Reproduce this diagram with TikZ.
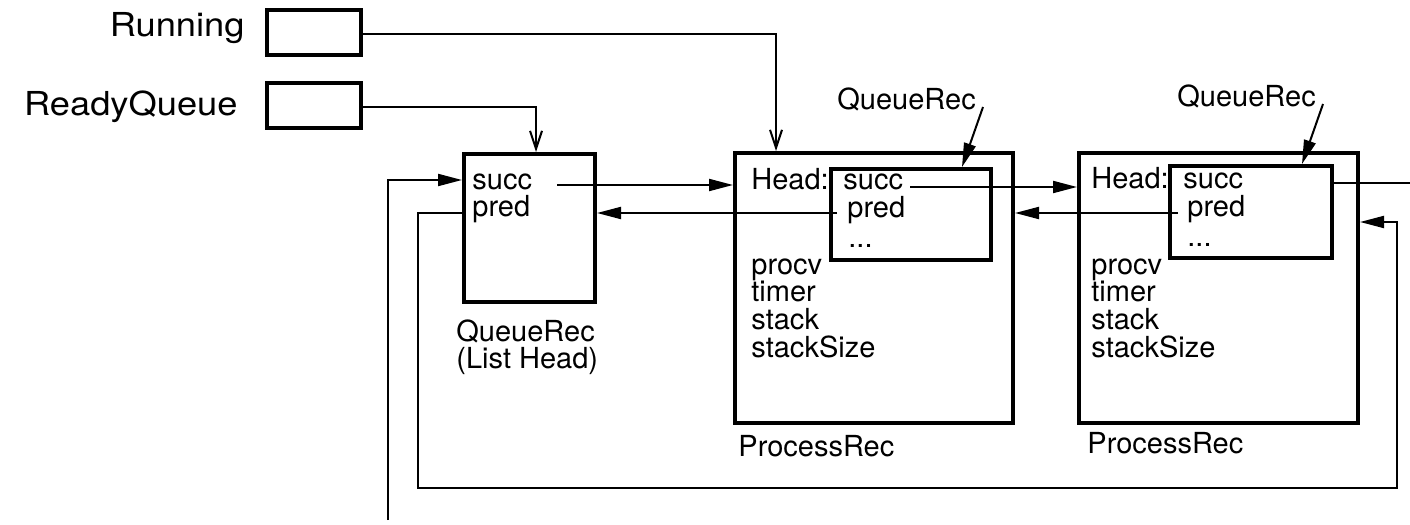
\documentclass[tikz,border=0pt]{standalone}
\usepackage{fontspec}
\setmainfont{TeX Gyre Heros}
\newfontfamily\bigfont{TeX Gyre Heros}[FakeStretch=1.1]
\usetikzlibrary{arrows.meta}
\begin{document}
\begin{tikzpicture}[x=0.5bp,y=-0.5bp,
  box/.style={draw,line width=2bp,inner sep=0pt,rectangle},
  txt/.style={inner sep=0pt,anchor=base west,font=\fontsize{14.5bp}{17bp}\selectfont},
  big/.style={inner sep=0pt,anchor=base east,font=\bigfont\fontsize{16.5bp}{19bp}\selectfont},
  tri/.style={line width=1bp,-{Triangle[length=12bp,width=6bp]}},
  barb/.style={line width=1bp,-{Straight Barb[length=9bp,width=6bp]}},
  plain/.style={line width=1bp},
]
\useasboundingbox (0,0) rectangle (1410,525);

% boxes
\node[box,minimum width=47bp,minimum height=22.5bp] (run) at (314,32.5) {};
\node[box,minimum width=46.75bp,minimum height=22.5bp] (rq) at (313.75,105.5) {};
\node[box,minimum width=65.5bp,minimum height=74bp] (lh) at (529.5,228) {};
\node[box,minimum width=139bp,minimum height=135bp] (pr1) at (874,288) {};
\node[box,minimum width=80bp,minimum height=45.5bp] (q1) at (911,214.5) {};
\node[box,minimum width=139.5bp,minimum height=135bp] (pr2) at (1218.5,288) {};
\node[box,minimum width=81bp,minimum height=46bp] (q2) at (1251,212) {};

% big labels
\node[big] (lrun) at (245,37) {Running};
\node[big] (lrq) at (238,116) {ReadyQueue};

% list head texts
\node[txt] (lhsucc) at (472,190) {succ};
\node[txt] (lhpred) at (472,217) {pred};
\node[txt] (lhl1) at (456,342) {QueueRec};
\node[txt] (lhl2) at (456,369) {(List Head)};

% process rec 1 texts
\node[txt] (h1) at (751,190) {Head:};
\node[txt] (s1) at (843,190) {succ};
\node[txt] (p1) at (847,218) {pred};
\node[txt] (d1) at (848,248) {...};
\node[txt] (pv1) at (751,275) {procv};
\node[txt] (tm1) at (751,302) {timer};
\node[txt] (st1) at (751,330) {stack};
\node[txt] (ss1) at (751,357) {stackSize};
\node[txt] (pl1) at (738,456) {ProcessRec};
\node[txt] (ql1) at (837,110) {QueueRec};

% process rec 2 texts
\node[txt] (h2) at (1091,189) {Head:};
\node[txt] (s2) at (1183,189) {succ};
\node[txt] (p2) at (1187,217) {pred};
\node[txt] (d2) at (1187,247) {...};
\node[txt] (pv2) at (1091,275) {procv};
\node[txt] (tm2) at (1091,302) {timer};
\node[txt] (st2) at (1091,330) {stack};
\node[txt] (ss2) at (1091,357) {stackSize};
\node[txt] (pl2) at (1087,453) {ProcessRec};
\node[txt] (ql2) at (1177,107) {QueueRec};

% connector end points
\coordinate (runout) at (361,34);
\coordinate (rqout) at (360.5,107);
\coordinate (lhs) at (557,185);
\coordinate (p1s) at (837,213);
\coordinate (s1s) at (910,187);
\coordinate (p2s) at (1178,213);
\coordinate (outend) at (1410,183);
\coordinate (inbot) at (388,520);
\coordinate (qa1) at (983,107);
\coordinate (qa2) at (1323,104);

% connectors
\draw[barb] (runout) -| ([xshift=-49bp]pr1.north);
\draw[barb] (rqout) -| ([xshift=3.25bp]lh.north);
\draw[tri] (lhs) -- (lhs -| pr1.west);
\draw[tri] (p1s) -- (p1s -| lh.east);
\draw[tri] (s1s) -- (s1s -| pr2.west);
\draw[tri] (p2s) -- (p2s -| pr1.east);
\draw[plain] (q2.east |- outend) -- (outend);
\draw[tri] (inbot) |- (lh.west |- 0,180);
\draw[tri] (lh.west |- 0,213) -- (418,213) -- (418,488) -- (1397,488) -- (1397,222) -- (pr2.east |- 0,222);
\draw[tri] (qa1) -- ([xshift=25.5bp]q1.north);
\draw[tri] (qa2) -- ([xshift=25.5bp]q2.north);
\end{tikzpicture}
\end{document}
